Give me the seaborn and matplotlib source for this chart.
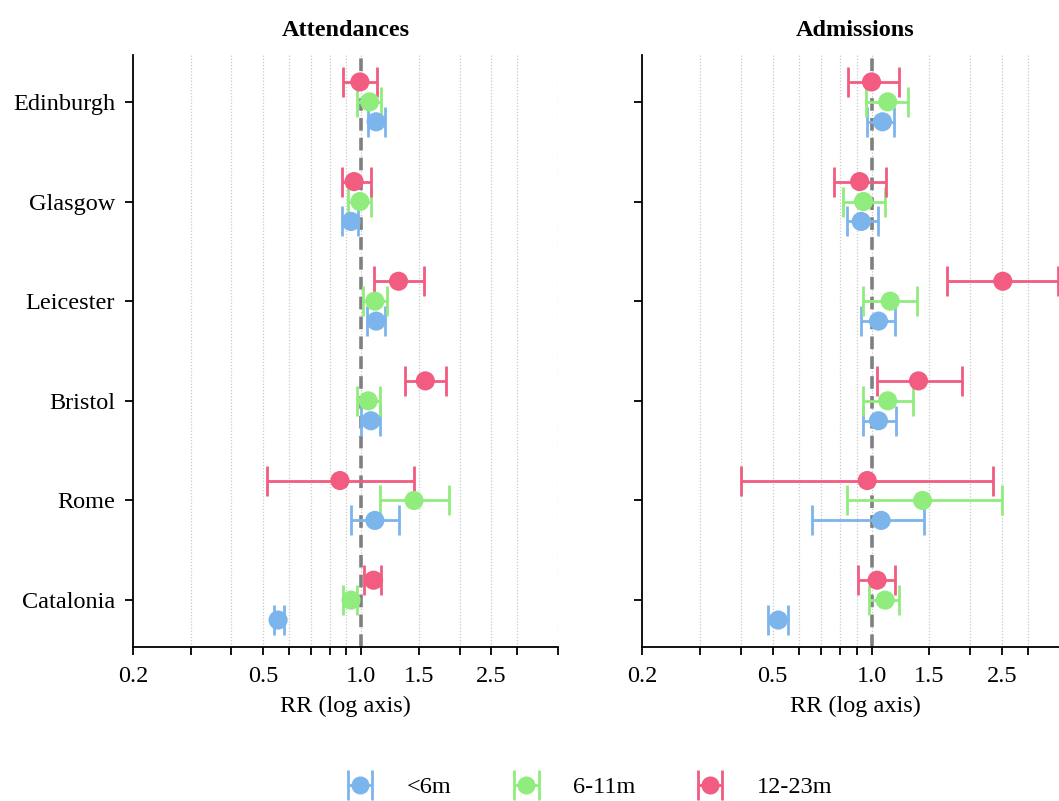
import numpy as np
import pandas as pd
import matplotlib
matplotlib.use("Agg")
import matplotlib.pyplot as plt
from matplotlib.ticker import FixedLocator, FixedFormatter, NullLocator
import seaborn as sns

cities = ["Edinburgh", "Glasgow", "Leicester", "Bristol", "Rome", "Catalonia"]
groups = ["<6m", "6-11m", "12-23m"]
colors = ["#7cb5ec", "#90ed7d", "#f15c80"]

# Attendances: RR, lower, upper per group (order of cities)
att_lt6_rr = [1.11, 0.93, 1.11, 1.07, 1.10, 0.556]
att_lt6_lo = [1.05, 0.87, 1.04, 1.00, 0.93, 0.54]
att_lt6_hi = [1.18, 0.98, 1.18, 1.14, 1.30, 0.58]
att_611_rr = [1.06, 0.99, 1.10, 1.05, 1.45, 0.93]
att_611_lo = [0.97, 0.91, 1.01, 0.97, 1.14, 0.88]
att_611_hi = [1.15, 1.07, 1.20, 1.14, 1.86, 0.97]
att_1223_rr = [0.99, 0.95, 1.30, 1.57, 0.86, 1.09]
att_1223_lo = [0.88, 0.87, 1.09, 1.36, 0.515, 1.02]
att_1223_hi = [1.12, 1.07, 1.56, 1.82, 1.45, 1.15]

# Admissions
adm_lt6_rr = [1.08, 0.93, 1.05, 1.05, 1.07, 0.52]
adm_lt6_lo = [0.97, 0.84, 0.93, 0.94, 0.66, 0.485]
adm_lt6_hi = [1.17, 1.05, 1.18, 1.19, 1.44, 0.555]
adm_611_rr = [1.12, 0.945, 1.14, 1.12, 1.43, 1.10]
adm_611_lo = [0.96, 0.82, 0.945, 0.945, 0.84, 0.985]
adm_611_hi = [1.29, 1.10, 1.38, 1.34, 2.49, 1.21]
adm_1223_rr = [1.00, 0.92, 2.51, 1.39, 0.97, 1.04]
adm_1223_lo = [0.845, 0.77, 1.70, 1.04, 0.40, 0.91]
adm_1223_hi = [1.21, 1.11, 3.69, 1.88, 2.35, 1.18]

tick_vals = [0.2, 0.3, 0.4, 0.5, 0.6, 0.7, 0.8, 0.9, 1.0, 1.5, 2.0, 2.5, 3.0, 4.0]
tick_labels = ["0.2", "", "", "0.5", "", "", "", "", "1.0", "1.5", "", "2.5", "", ""]

sns.set_theme(style="ticks")
plt.rcParams["font.family"] = ["Liberation Serif", "DejaVu Serif"]
plt.rcParams["axes.linewidth"] = 1.3
plt.rcParams["text.color"] = "black"
plt.rcParams["axes.labelcolor"] = "black"
plt.rcParams["axes.titlecolor"] = "black"
plt.rcParams["xtick.color"] = "black"
plt.rcParams["ytick.color"] = "black"

FS = 17.5

panels = {
    "Attendances": [(att_lt6_rr, att_lt6_lo, att_lt6_hi),
                    (att_611_rr, att_611_lo, att_611_hi),
                    (att_1223_rr, att_1223_lo, att_1223_hi)],
    "Admissions": [(adm_lt6_rr, adm_lt6_lo, adm_lt6_hi),
                   (adm_611_rr, adm_611_lo, adm_611_hi),
                   (adm_1223_rr, adm_1223_lo, adm_1223_hi)],
}

fig = plt.figure(figsize=(10.59, 8.01), dpi=100)
ax1 = fig.add_axes([0.1256, 0.1923, 0.4013, 0.739])
ax2 = fig.add_axes([0.6062, 0.1923, 0.4035, 0.739])

offsets = [0.2, 0.0, -0.2]
handles = []
for ax, (title, series) in zip([ax1, ax2], panels.items()):
    ax.set_xscale("log")
    ax.set_xlim(0.2, 4.0)
    ax.set_ylim(5.47, -0.47)
    for v in tick_vals:
        ax.axvline(v, color="#c8c8c8", lw=0.9, ls=(0, (1, 1.5)), zorder=0)
    ax.axvline(1.0, color="#808080", lw=2.6, ls=(0, (3.5, 2)), zorder=1)
    hs = []
    for gi, (rr, lo, hi) in enumerate(series):
        rr = np.array(rr); lo = np.array(lo); hi = np.array(hi)
        y = np.arange(len(cities)) + offsets[gi]
        df = pd.DataFrame({"rr": rr, "y": y})
        ax.errorbar(rr, y, xerr=[rr - lo, hi - rr], fmt="none",
                    ecolor=colors[gi], elinewidth=2.0, capsize=11,
                    capthick=2.0, zorder=2)
        sns.scatterplot(data=df, x="rr", y="y", ax=ax, color=colors[gi],
                        s=190, edgecolor="none", zorder=3, legend=False)
        h = ax.errorbar([np.nan], [np.nan], xerr=[[0.1]], fmt="o", color=colors[gi],
                        markersize=12, elinewidth=2.0, capsize=11, capthick=2.0)
        hs.append(h)
    handles = hs
    ax.xaxis.set_major_locator(FixedLocator(tick_vals))
    ax.xaxis.set_major_formatter(FixedFormatter(tick_labels))
    ax.xaxis.set_minor_locator(NullLocator())
    ax.set_yticks(range(len(cities)))
    if ax is ax1:
        ax.set_yticklabels(cities)
    else:
        ax.set_yticklabels([])
    ax.tick_params(axis="both", length=6, width=1.3, labelsize=FS,
                   colors="black", labelcolor="black")
    ax.tick_params(axis="x", pad=8)
    ax.tick_params(axis="y", pad=7)
    ax.set_xlabel("RR (log axis)", fontsize=FS, labelpad=6, color="black")
    ax.set_ylabel("")
    ax.set_title(title, fontsize=FS, fontweight="bold", pad=14, color="black")
    for s in ["top", "right"]:
        ax.spines[s].set_visible(False)
    ax.spines["left"].set_color("black")
    ax.spines["bottom"].set_color("black")

leg = fig.legend(handles, groups, loc="center", bbox_to_anchor=(0.556, 14 / 801),
                 ncol=3, frameon=False, fontsize=FS, handlelength=1.2,
                 columnspacing=2.5, handletextpad=1.3)
for t in leg.get_texts():
    t.set_color("black")

fig.savefig("out.png", dpi=100)
